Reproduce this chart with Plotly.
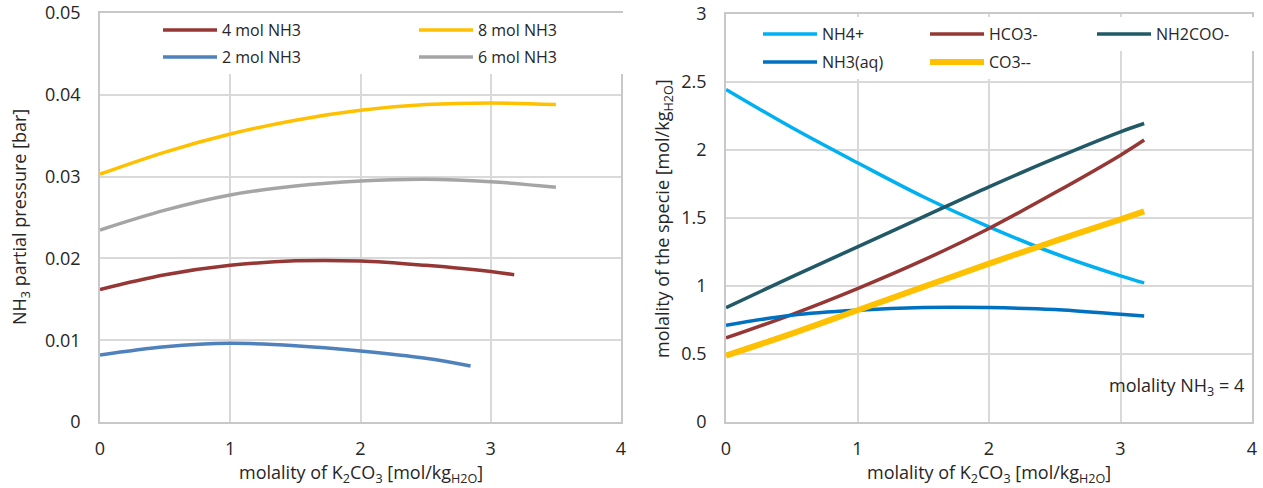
import plotly.graph_objects as go

# ---------------- data ----------------
# Left: NH3 partial pressure [bar] vs molality of K2CO3
x_2mol = [0, 0.5, 1.0, 1.5, 2.0, 2.5, 2.845]
p_2mol = [0.00819, 0.0092, 0.00962, 0.00933, 0.00868, 0.00779, 0.00685]

x_4mol = [0, 0.5, 1.0, 1.5, 2.0, 2.5, 3.0, 3.18]
p_4mol = [0.0162, 0.0180, 0.01915, 0.0197, 0.01968, 0.01915, 0.0184, 0.0180]

x_6mol = [0, 0.5, 1.0, 1.5, 2.0, 2.5, 3.0, 3.5]
p_6mol = [0.02347, 0.0259, 0.02775, 0.02885, 0.02946, 0.02967, 0.02938, 0.02869]

x_8mol = [0, 0.5, 1.0, 1.5, 2.0, 2.5, 3.0, 3.5]
p_8mol = [0.0303, 0.0330, 0.0352, 0.0369, 0.0381, 0.0388, 0.0390, 0.0388]

# Right: speciation at molality NH3 = 4
x_spec = [0, 0.5, 1.0, 1.5, 2.0, 2.5, 3.0, 3.18]
m_nh4 = [2.445, 2.165, 1.906, 1.656, 1.435, 1.239, 1.075, 1.023]
m_hco3 = [0.618, 0.79, 0.981, 1.19, 1.423, 1.685, 1.962, 2.073]
m_nh2coo = [0.841, 1.067, 1.288, 1.508, 1.729, 1.938, 2.134, 2.195]
m_nh3aq = [0.711, 0.785, 0.822, 0.841, 0.841, 0.827, 0.792, 0.78]
m_co3 = [0.488, 0.65, 0.822, 0.993, 1.165, 1.33, 1.49, 1.548]

left_yticks = [0, 0.01, 0.02, 0.03, 0.04, 0.05]
right_yticks = [0, 0.5, 1, 1.5, 2, 2.5, 3]
xticks = [0, 1, 2, 3, 4]

# ---------------- figure ----------------
W, H = 1263, 488
FONT = "Open Sans"
TXT = "#262626"

def px(x):
    return x / W

def py(y):
    return 1 - y / H

fig = go.Figure()

def add(x, y, name, color, width, xa, ya, legend):
    fig.add_trace(go.Scatter(x=x, y=y, name=name, mode="lines",
                             line=dict(color=color, width=width, shape="spline", smoothing=1.0),
                             xaxis=xa, yaxis=ya, legend=legend))

# left legend: row1 -> 4, 8 ; row2 -> 2, 6
add(x_4mol, p_4mol, "4 mol NH3", "#953735", 3.5, "x", "y", "legend")
add(x_8mol, p_8mol, "8 mol NH3", "#FFC000", 3.5, "x", "y", "legend")
add(x_2mol, p_2mol, "2 mol NH3", "#4F81BD", 3.5, "x", "y", "legend2")
add(x_6mol, p_6mol, "6 mol NH3", "#A5A5A5", 3.5, "x", "y", "legend2")

add(x_spec, m_nh4, "NH4+", "#00B0F0", 3.5, "x2", "y2", "legend3")
add(x_spec, m_hco3, "HCO3-", "#953735", 3.5, "x2", "y2", "legend3")
add(x_spec, m_nh2coo, "NH2COO-", "#215967", 3.5, "x2", "y2", "legend3")
add(x_spec, m_nh3aq, "NH3(aq)", "#0070C0", 3.5, "x2", "y2", "legend4")
add(x_spec, m_co3, "CO3--", "#FFC000", 6, "x2", "y2", "legend4")

axis_common = dict(showgrid=True, gridcolor="#D9D9D9", gridwidth=1.5,
                   showline=True, linecolor="#C8C8C8", linewidth=1.5, mirror=True,
                   zeroline=False, ticks="", automargin=False,
                   tickfont=dict(family=FONT, size=18, color=TXT))

def legend_cfg(x, y, entrywidth):
    return dict(orientation="h", x=px(x), y=py(y), xanchor="left", yanchor="middle",
                bgcolor="white", borderwidth=0, itemwidth=54,
                entrywidth=entrywidth, entrywidthmode="pixels",
                font=dict(family=FONT, size=16, color=TXT), itemclick=False)

fig.update_layout(
    template="none",
    width=W, height=H,
    margin=dict(l=0, r=0, t=0, b=0, autoexpand=False),
    paper_bgcolor="white", plot_bgcolor="white",
    font=dict(family=FONT, color=TXT),
    xaxis=dict(domain=[px(100), px(621)], range=[0, 4], tickvals=xticks,
               anchor="y", ticklabelstandoff=10, **axis_common),
    yaxis=dict(domain=[py(422), py(13)], range=[0, 0.05], tickvals=left_yticks,
               anchor="x", ticklabelstandoff=14, **axis_common),
    xaxis2=dict(domain=[px(726), px(1252)], range=[0, 4], tickvals=xticks,
                anchor="y2", ticklabelstandoff=10, **axis_common),
    yaxis2=dict(domain=[py(422), py(14)], range=[0, 3], tickvals=right_yticks,
                anchor="x2", ticklabelstandoff=14, **axis_common),
    legend=legend_cfg(158, 30, 187),
    legend2=legend_cfg(158, 57, 187),
    legend3=legend_cfg(758, 34, 98),
    legend4=legend_cfg(758, 62, 98),
    showlegend=True,
)

xtitle = "molality of K<sub>2</sub>CO<sub>3</sub> [mol/kg<sub>H2O</sub>]"
annots = [
    dict(text=xtitle, x=px(360.5), y=py(473), textangle=0),
    dict(text=xtitle, x=px(989), y=py(473), textangle=0),
    dict(text="NH<sub>3</sub> partial pressure [bar]", x=px(20), y=py(217), textangle=-90),
    dict(text="molality of the specie [mol/kg<sub>H2O</sub>]", x=px(663), y=py(219), textangle=-90),
]
for a in annots:
    fig.add_annotation(xref="paper", yref="paper", showarrow=False,
                       xanchor="center", yanchor="middle",
                       font=dict(family=FONT, size=18, color=TXT), **a)

fig.add_annotation(xref="paper", yref="paper", showarrow=False,
                   text="molality NH<sub>3</sub> = 4", x=px(1246), y=py(386),
                   xanchor="right", yanchor="middle",
                   font=dict(family=FONT, size=18, color=TXT))

fig.write_html("out.html")
